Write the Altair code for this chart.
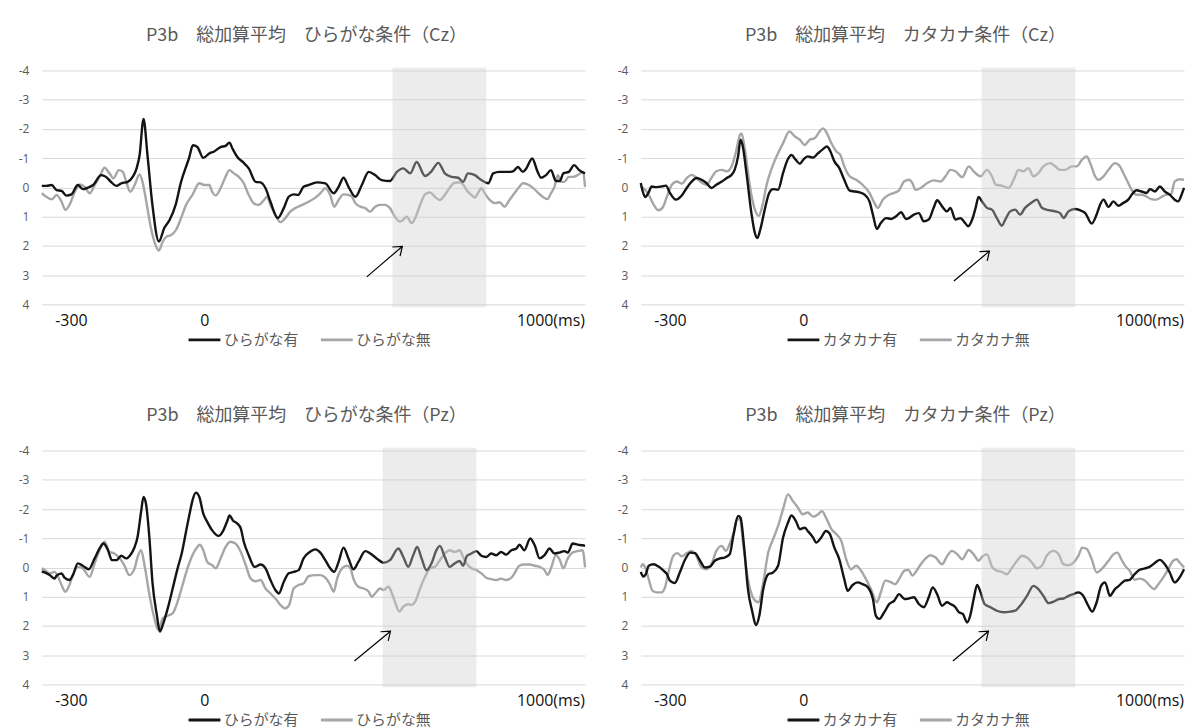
import altair as alt
import pandas as pd

JP = "Noto Sans CJK JP"
LATIN = "Open Sans"

# ERP epoch in ms and amplitude ticks in µV (negative plotted upward)
T_DOMAIN = [-100, 1000]
Y_TICKS = [-4, -3, -2, -1, 0, 1, 2, 3, 4]

# axis captions and where they sit on the time scale
x_caption_text = ["-300", "0", "1000(ms)"]
x_caption_at = [-40, 230, 1000]

# ---------------- P3b Cz, hiragana ----------------
hcz_with_t = [-100, -91, -80, -70, -60, -50, -40, -27, -17, -7, 4, 20, 30, 40, 51, 61, 74, 84, 92, 98,
              106, 114, 124, 137, 148, 159, 171, 182, 192, 198, 206, 215, 227, 239, 249, 262, 272, 280,
              286, 296, 307, 319, 333, 343, 353, 363, 378, 390, 400, 410, 419, 430, 440,
              457, 474, 491, 501, 511, 521, 535, 548, 562, 575, 588, 605, 619, 632, 646, 659, 676, 689,
              703, 716, 730, 743, 753, 763, 777, 790, 804, 814, 827, 844, 854, 864, 874, 881, 893, 904,
              911, 921, 931, 941, 949, 956, 967, 978, 988, 1000]
hcz_with_v = [-0.05, -0.05, -0.08, 0.09, 0.12, 0.28, 0.24, -0.08, 0.06, 0.01, -0.08, -0.42, -0.36, -0.19,
              -0.05, -0.14, -0.19, -0.36, -0.65, -1.10, -2.34, -1.10, 0.60, 1.85, 1.39, 1.11, 0.60, -0.19,
              -0.70, -0.99, -1.44, -1.38, -1.01, -1.16, -1.23, -1.38, -1.42, -1.53, -1.33, -1.04, -0.87,
              -0.65, -0.19, -0.17, 0.03, 0.49, 1.05, 0.71, 0.32, 0.24, 0.26, -0.02, -0.08,
              -0.17, -0.14, 0.20, -0.02, -0.33, -0.02, 0.32, -0.08, -0.53, -0.42, -0.25, -0.22, -0.53,
              -0.65, -0.48, -0.87, -0.39, -0.55, -0.84, -0.48, -0.36, -0.33, -0.19, -0.48, -0.42, -0.25,
              -0.14, -0.48, -0.53, -0.53, -0.55, -0.70, -0.53, -0.65, -0.99, -0.53, -0.33, -0.42, -0.59,
              -0.22, -0.22, -0.48, -0.53, -0.76, -0.59, -0.48]
hcz_without_t = [-100, -91, -80, -70, -60, -52, -44, -33, -23, -13, -3, 7, 17, 27, 37, 45, 56, 64, 71, 79,
                 88, 98, 104, 111, 121, 130, 137, 145, 153, 161, 172, 182, 192, 205, 219, 229, 239, 245,
                 252, 262, 272, 280, 289, 299, 309, 319, 329, 339, 350, 356, 363, 373, 383, 393, 403, 413,
                 427, 440,
                 454, 464, 474, 484, 492, 501, 511, 521, 528, 535, 545, 555, 565, 575, 585, 595, 605, 615,
                 625, 632, 639, 649, 656, 666, 676, 686, 696, 706, 716, 726, 736, 746, 753, 760, 770, 777,
                 783, 790, 797, 807, 817, 827, 837, 847, 857, 867, 874, 884, 894, 904, 914, 924, 931, 938,
                 945, 951, 958, 967, 976, 985, 996, 1000]
hcz_without_v = [0.20, 0.32, 0.41, 0.26, 0.49, 0.77, 0.60, 0.15, -0.10, -0.02, 0.20, -0.08, -0.36, -0.67,
                 -0.48, -0.31, -0.59, -0.53, -0.19, 0.15, -0.08, -0.44, -0.19, 0.43, 1.39, 1.96, 2.16,
                 1.85, 1.68, 1.64, 1.45, 1.05, 0.60, 0.26, -0.14, -0.08, -0.08, 0.15, 0.28, 0.03, -0.36,
                 -0.59, -0.48, -0.36, -0.14, 0.26, 0.54, 0.60, 0.43, 0.32, 0.60, 0.94, 1.19, 1.05, 0.83,
                 0.71, 0.60, 0.49,
                 0.35, 0.20, 0.03, 0.26, 0.66, 0.43, 0.24, 0.26, 0.32, 0.54, 0.66, 0.71, 0.83, 0.66, 0.60,
                 0.60, 0.71, 1.00, 1.17, 1.11, 1.00, 1.22, 1.05, 0.60, 0.24, 0.17, 0.32, 0.43, 0.26, 0.01,
                 -0.16, -0.17, -0.10, 0.09, 0.26, 0.35, 0.20, 0.03, 0.20, 0.43, 0.54, 0.51, 0.66, 0.43,
                 0.20, -0.02, -0.14, -0.10, 0.01, 0.17, 0.32, 0.40, 0.20, -0.02, -0.42, -0.19, -0.19,
                 -0.36, -0.36, -0.42, -0.53, -0.02]

# ---------------- P3b Cz, katakana ----------------
kcz_with_t = [-100, -96, -91, -84, -78, -68, -58, -49, -41, -29, -17, -7, 3, 13, 23, 33, 43, 53, 64, 74,
              84, 90, 97, 102, 106, 114, 124, 131, 136, 142, 151, 160, 168, 178, 188, 198, 205, 214, 222,
              230, 238, 249, 259, 269, 277, 284, 292, 302, 312, 323, 333, 343, 353, 363, 370, 378, 386,
              397, 407, 417, 427, 437,
              443, 453, 463, 473, 483, 493, 500, 510, 520, 527, 537, 547, 554, 563, 571, 578, 584, 591,
              601, 611, 621, 631, 638, 648, 658, 668, 678, 692, 702, 712, 726, 739, 749, 756, 766, 779,
              789, 800, 813, 823, 830, 837, 847, 857, 867, 877, 887, 894, 904, 914, 924, 931, 941, 951,
              961, 971, 981, 988, 995, 1000]
kcz_with_v = [-0.15, 0.14, 0.33, 0.17, -0.03, -0.01, -0.03, -0.06, 0.19, 0.42, 0.28, 0.02, -0.20, -0.32,
              -0.26, -0.15, 0.02, -0.09, -0.20, -0.32, -0.43, -0.60, -1.06, -1.63, -1.45, -0.49, 0.88,
              1.56, 1.73, 1.44, 0.76, 0.19, 0.06, 0.08, -0.49, -0.97, -1.11, -0.94, -0.81, -0.97, -1.06,
              -1.02, -1.17, -1.31, -1.40, -1.23, -0.89, -0.66, -0.26, 0.11, 0.14, 0.17, 0.25, 0.48, 0.93,
              1.42, 1.22, 1.05, 1.08, 0.99, 0.85, 1.08,
              1.05, 0.93, 0.88, 1.16, 1.10, 0.70, 0.44, 0.65, 0.82, 0.70, 1.10, 1.05, 1.16, 1.33, 1.10,
              0.70, 0.33, 0.48, 0.70, 0.76, 1.05, 1.31, 1.10, 0.82, 0.76, 0.93, 0.70, 0.51, 0.42, 0.70,
              0.78, 0.82, 0.88, 1.05, 0.82, 0.74, 0.78, 0.88, 1.24, 0.93, 0.59, 0.42, 0.67, 0.48, 0.63,
              0.53, 0.42, 0.25, 0.10, 0.14, 0.19, 0.06, 0.14, -0.03, 0.14, 0.25, 0.42, 0.48, 0.25, 0.02]
kcz_without_t = [-100, -95, -84, -74, -64, -55, -47, -37, -27, -17, -7, 3, 13, 23, 33, 43, 53, 64, 74, 84,
                 92, 101, 104, 111, 121, 131, 139, 146, 154, 164, 175, 188, 201, 212, 222, 232, 242, 252,
                 262, 269, 277, 286, 296, 304, 312, 323, 336, 349, 363, 373, 380, 390, 403, 413, 423, 433,
                 443, 450, 456, 467, 480, 493, 507, 517, 527, 537, 551, 564, 574, 588, 601, 611, 619, 631,
                 645, 655, 665, 675, 685, 695, 705, 715, 729, 739, 749, 759, 773, 783, 793, 803, 810, 820,
                 826, 837, 847, 860, 870, 877, 887, 894, 904, 914, 924, 933, 944, 954, 964, 974, 981, 991,
                 1000]
kcz_without_v = [-0.03, 0.02, 0.25, 0.59, 0.78, 0.67, 0.31, -0.09, -0.20, -0.13, -0.32, -0.43, -0.32,
                 -0.17, -0.09, -0.32, -0.55, -0.60, -0.55, -0.72, -1.17, -1.80, -1.85, -1.28, -0.03, 0.76,
                 0.97, 0.65, -0.03, -0.60, -1.06, -1.51, -1.91, -1.74, -1.63, -1.45, -1.63, -1.68, -1.91,
                 -2.02, -1.85, -1.51, -1.23, -1.11, -0.72, -0.38, -0.26, -0.09, 0.19, 0.53, 0.70, 0.42,
                 0.25, 0.19, 0.10, -0.20,
                 -0.26, -0.15, 0.08, 0.02, -0.15, -0.24, -0.20, -0.38, -0.60, -0.55, -0.35, -0.72, -0.55,
                 -0.38, -0.60, -0.38, -0.09, -0.06, 0.02, -0.26, -0.60, -0.55, -0.66, -0.38, -0.49, -0.72,
                 -0.83, -0.72, -0.60, -0.60, -0.72, -0.72, -0.94, -1.06, -0.83, -0.38, -0.26, -0.38, -0.60,
                 -0.83, -0.72, -0.49, -0.15, 0.08, 0.25, 0.25, 0.31, 0.40, 0.42, 0.33, 0.25, 0.22, -0.20,
                 -0.28, -0.26]

# ---------------- P3b Pz, hiragana ----------------
hpz_with_t = [-100, -94, -84, -74, -70, -60, -54, -44, -37, -27, -17, -5, 7, 17, 25, 34, 42, 51, 61, 71,
              79, 88, 94, 101, 106, 111, 118, 124, 133, 139, 146, 155, 165, 175, 184, 192, 200, 206, 212,
              219, 227, 235, 245, 258, 266, 276, 280, 287, 296, 303, 309, 319, 331, 343, 353, 363, 373,
              380, 390, 400, 410, 420, 430, 444,
              454, 464, 474, 484, 492, 501, 511, 521, 531, 541, 555, 565, 578, 592, 605, 622, 632, 642,
              652, 660, 669, 679, 689, 699, 706, 716, 726, 736, 746, 753, 761, 770, 780, 790, 800, 810,
              820, 830, 840, 851, 861, 867, 877, 889, 898, 908, 918, 928, 938, 948, 958, 965, 975, 985,
              995, 1000]
hpz_with_v = [0.13, 0.17, 0.26, 0.38, 0.28, 0.20, 0.35, 0.43, 0.26, -0.14, -0.06, 0.06, -0.31, -0.65,
              -0.82, -0.59, -0.25, -0.25, -0.40, -0.31, -0.42, -0.70, -1.05, -1.90, -2.41, -2.18, -0.99,
              0.49, 1.63, 2.19, 1.91, 1.40, 0.72, 0.03, -0.53, -1.22, -1.90, -2.35, -2.56, -2.41, -1.84,
              -1.56, -1.27, -1.08, -1.22, -1.61, -1.78, -1.61, -1.50, -1.33, -0.88, -0.42, -0.02, -0.10,
              0.03, 0.43, 0.77, 0.89, 0.49, 0.20, 0.15, 0.09, -0.31, -0.55,
              -0.62, -0.51, -0.25, 0.03, 0.15, -0.19, -0.68, -0.31, 0.06, -0.19, -0.56, -0.48, -0.31,
              -0.16, -0.25, -0.65, -0.36, -0.02, -0.42, -0.70, -0.31, 0.09, -0.14, -0.59, -0.74, -0.36,
              -0.02, -0.14, -0.22, -0.06, -0.40, -0.48, -0.56, -0.40, -0.36, -0.48, -0.42, -0.53, -0.44,
              -0.59, -0.65, -0.78, -0.59, -0.99, -0.76, -0.31, -0.42, -0.65, -0.48, -0.51, -0.56, -0.51,
              -0.82, -0.78, -0.76, -0.74]
hpz_without_t = [-100, -94, -84, -74, -67, -60, -52, -44, -37, -27, -17, -3, 7, 17, 27, 37, 47, 57, 67, 77,
                 88, 94, 101, 108, 118, 128, 136, 145, 155, 165, 175, 185, 195, 205, 215, 220, 227, 235,
                 245, 252, 262, 272, 282, 292, 303, 313, 323, 333, 343, 353, 363, 373, 383, 393, 401, 410,
                 420, 430, 440,
                 454, 464, 474, 484, 491, 498, 508, 518, 525, 531, 541, 552, 562, 568, 575, 585, 592, 602,
                 609, 615, 624, 632, 642, 649, 656, 666, 676, 686, 696, 706, 716, 726, 736, 746, 753, 760,
                 770, 780, 790, 800, 810, 820, 830, 840, 851, 857, 867, 877, 888, 898, 908, 918, 924, 931,
                 941, 949, 956, 965, 975, 985, 995, 1000]
hpz_without_v = [0.03, 0.09, 0.20, 0.15, 0.32, 0.60, 0.83, 0.60, 0.26, -0.02, 0.03, 0.32, -0.14, -0.59,
                 -0.88, -0.53, -0.48, -0.33, -0.08, 0.26, 0.03, -0.36, -0.59, -0.08, 0.94, 1.74, 2.14,
                 1.74, 1.65, 1.57, 1.17, 0.60, 0.03, -0.42, -0.70, -0.78, -0.59, -0.19, -0.08, 0.03, -0.31,
                 -0.70, -0.88, -0.82, -0.53, -0.08, 0.38, 0.47, 0.43, 0.72, 0.89, 1.06, 1.28, 1.40, 1.28,
                 0.72, 0.60, 0.55, 0.30,
                 0.26, 0.26, 0.35, 0.60, 0.83, 0.38, 0.03, -0.06, 0.03, 0.38, 0.66, 0.72, 0.83, 1.00, 0.89,
                 0.72, 0.77, 0.66, 0.89, 1.17, 1.51, 1.34, 1.26, 1.28, 1.17, 0.72, 0.32, 0.03, -0.02,
                 -0.25, -0.48, -0.59, -0.53, -0.59, -0.36, -0.14, 0.03, 0.09, 0.20, 0.35, 0.40, 0.43, 0.38,
                 0.43, 0.35, 0.20, -0.06, -0.10, -0.10, -0.06, -0.02, 0.09, 0.26, 0.03, -0.42, -0.25, 0.03,
                 -0.31, -0.51, -0.56, -0.59, 0.00]

# ---------------- P3b Pz, katakana ----------------
kpz_with_t = [-100, -95, -89, -84, -74, -64, -54, -47, -41, -31, -21, -10, 0, 10, 20, 30, 40, 50, 60, 70,
              80, 88, 97, 102, 109, 117, 126, 133, 140, 148, 158, 168, 178, 188, 198, 205, 214, 222, 232,
              238, 249, 255, 265, 275, 282, 292, 302, 312, 319, 329, 339, 349, 360, 370, 376, 383, 393,
              403, 413, 423, 434,
              443, 453, 463, 473, 483, 491, 500, 510, 520, 527, 537, 544, 552, 561, 567, 574, 581, 588,
              596, 608, 621, 635, 648, 658, 668, 682, 695, 705, 715, 726, 736, 746, 756, 766, 776, 786,
              796, 806, 814, 823, 832, 840, 850, 860, 868, 880, 890, 900, 910, 921, 931, 942, 951, 961,
              971, 981, 991, 1000]
kpz_with_v = [0.15, 0.31, 0.20, -0.06, -0.11, -0.03, 0.11, 0.23, 0.45, 0.53, 0.17, -0.28, -0.51, -0.49,
              -0.23, 0.00, -0.03, -0.23, -0.31, -0.34, -0.45, -1.14, -1.76, -1.70, -0.74, 0.74, 1.53,
              1.97, 1.65, 0.74, 0.23, 0.17, -0.06, -1.02, -1.53, -1.78, -1.59, -1.31, -1.36, -1.25,
              -1.02, -0.85, -1.02, -1.25, -1.17, -0.68, -0.28, 0.40, 0.80, 0.60, 0.51, 0.57, 0.68, 1.08,
              1.65, 1.76, 1.53, 1.25, 1.14, 0.91, 1.08,
              1.06, 1.02, 1.25, 1.36, 1.02, 0.68, 0.91, 1.31, 1.19, 1.25, 1.36, 1.53, 1.59, 1.88, 1.65,
              1.08, 0.60, 0.85, 1.25, 1.36, 1.48, 1.53, 1.51, 1.48, 1.31, 0.97, 0.63, 0.74, 0.97, 1.22,
              1.17, 1.08, 1.06, 0.97, 0.91, 0.85, 0.97, 1.31, 1.51, 1.19, 0.63, 0.51, 0.97, 0.74, 0.63,
              0.45, 0.42, 0.23, 0.08, 0.03, -0.03, -0.17, -0.26, -0.11, 0.17, 0.51, 0.34, 0.06]
kpz_without_t = [-100, -96, -91, -84, -76, -68, -58, -51, -44, -34, -26, -17, -7, 3, 13, 23, 33, 43, 53, 64,
                 72, 80, 88, 95, 101, 107, 117, 129, 138, 148, 158, 168, 178, 188, 198, 208, 218, 228, 238,
                 249, 259, 267, 275, 286, 296, 306, 316, 326, 336, 346, 356, 366, 378, 386, 395, 407, 415,
                 423, 434, 442,
                 450, 456, 467, 477, 487, 497, 510, 520, 530, 541, 551, 564, 574, 584, 592, 601, 611, 621,
                 631, 641, 652, 662, 672, 682, 692, 702, 712, 722, 736, 746, 756, 766, 776, 786, 794, 803,
                 813, 823, 833, 847, 857, 865, 873, 882, 890, 900, 910, 921, 931, 939, 948, 958, 968, 978,
                 985, 991, 1000]
kpz_without_v = [0.00, -0.11, 0.00, 0.40, 0.80, 0.85, 0.85, 0.68, 0.17, -0.40, -0.49, -0.38, -0.49, -0.57,
                 -0.38, 0.00, 0.06, -0.11, -0.57, -0.74, -0.57, -0.80, -1.19, -1.65, -1.65, -0.85, 0.40,
                 1.08, 1.19, 0.51, -0.51, -0.97, -1.42, -1.99, -2.50, -2.27, -2.05, -1.82, -1.88, -1.74,
                 -1.82, -1.93, -1.70, -1.31, -1.14, -0.91, -0.28, 0.06, -0.06, 0.11, 0.40, 0.74, 1.19,
                 0.85, 0.45, 0.51, 0.57, 0.40, 0.11, 0.08,
                 0.28, 0.17, -0.11, -0.31, -0.42, -0.34, -0.11, -0.38, -0.57, -0.45, -0.28, -0.60, -0.45,
                 -0.23, -0.38, -0.45, -0.03, 0.11, 0.15, 0.23, 0.00, -0.23, -0.40, -0.34, -0.17, 0.03,
                 -0.06, -0.40, -0.57, -0.45, -0.11, -0.08, -0.17, -0.40, -0.68, -0.63, -0.28, 0.17, 0.06,
                 -0.23, -0.45, -0.51, -0.28, -0.03, 0.11, 0.42, 0.38, 0.45, 0.63, 0.74, 0.57, 0.34, 0.06,
                 -0.23, -0.28, -0.17, 0.00]

# analysis window (ms) and arrow (tail -> head) for each panel
windows = [(610, 800), (590, 780), (590, 780), (590, 780)]
arrows = [((558, 3.06), (630, 2.02)), ((534, 3.2), (606, 2.18)),
          ((533, 3.2), (606, 2.18)), ((532, 3.2), (604, 2.18))]

titles = ["P3b\u3000総加算平均\u3000ひらがな条件（Cz）", "P3b\u3000総加算平均\u3000カタカナ条件（Cz）",
          "P3b\u3000総加算平均\u3000ひらがな条件（Pz）", "P3b\u3000総加算平均\u3000カタカナ条件（Pz）"]
names = [("ひらがな有", "ひらがな無"), ("カタカナ有", "カタカナ無"),
         ("ひらがな有", "ひらがな無"), ("カタカナ有", "カタカナ無")]
series = [(hcz_with_t, hcz_with_v, hcz_without_t, hcz_without_v),
          (kcz_with_t, kcz_with_v, kcz_without_t, kcz_without_v),
          (hpz_with_t, hpz_with_v, hpz_without_t, hpz_without_v),
          (kpz_with_t, kpz_with_v, kpz_without_t, kpz_without_v)]

PLOT_W, PLOT_H = 546, 235
BLACK, GRAY = "#141414", "#a6a6a6"
CHEVRON = "M-1,-0.75L0,0L-1,0.75"


def panel(i):
    name_with, name_without = names[i]
    t_w, v_w, t_wo, v_wo = series[i]
    xs = alt.Scale(domain=T_DOMAIN, nice=False, zero=False)
    ys = alt.Scale(domain=[-4, 4], reverse=True, nice=False, zero=False)
    y_axis = alt.Axis(values=Y_TICKS, grid=True, gridColor="#d9d9d9", gridWidth=1, domain=False,
                      ticks=False, labelColor="#595959", labelFont=LATIN, labelFontSize=12,
                      labelPadding=13, title=None,
                      labelExpr="datum.value < 0 ? '-' + abs(datum.value) : '' + datum.value")
    color = alt.Color("series:N",
                      scale=alt.Scale(domain=[name_with, name_without], range=[BLACK, GRAY]),
                      legend=alt.Legend(orient="none", legendX=146, legendY=253, direction="horizontal",
                                        title=None, symbolType="stroke", symbolSize=1024,
                                        symbolStrokeWidth=3, labelFont=JP, labelFontSize=15,
                                        labelColor="#595959", labelOffset=2, columnPadding=15))

    def wave(t, v, name):
        df = pd.DataFrame({"t": t, "v": v, "series": name})
        return alt.Chart(df).mark_line(strokeWidth=2.4, interpolate="monotone").encode(
            x=alt.X("t:Q", scale=xs, axis=None),
            y=alt.Y("v:Q", scale=ys, axis=y_axis),
            color=color,
        )

    w0, w1 = windows[i]
    shade = alt.Chart(pd.DataFrame({"start": [w0], "end": [w1], "lo": [-4.1], "hi": [4.1]})).mark_rect(
        color="#cdcdcd", opacity=0.38
    ).encode(
        x=alt.X("start:Q", scale=xs, axis=None), x2="end:Q",
        y=alt.Y("lo:Q", scale=ys, axis=y_axis), y2="hi:Q",
    )

    (ta, va), (tb, vb) = arrows[i]
    arrow_df = pd.DataFrame({"t": [ta], "v": [va], "t2": [tb], "v2": [vb]})
    shaft = alt.Chart(arrow_df).mark_rule(color="black", strokeWidth=1.2).encode(
        x=alt.X("t:Q", scale=xs, axis=None), y=alt.Y("v:Q", scale=ys, axis=y_axis),
        x2="t2:Q", y2="v2:Q",
    )
    head = alt.Chart(arrow_df).mark_point(shape=CHEVRON, size=256, angle=320, filled=False,
                                          color="black", strokeWidth=1.2, opacity=1).encode(
        x=alt.X("t2:Q", scale=xs, axis=None), y=alt.Y("v2:Q", scale=ys, axis=y_axis),
    )

    cap = pd.DataFrame({"t": x_caption_at, "label": x_caption_text})
    cap_mid = alt.Chart(cap.iloc[:2]).mark_text(font=LATIN, fontSize=16, color="#111111",
                                                 align="center", baseline="middle").encode(
        x=alt.X("t:Q", scale=xs, axis=None), y=alt.value(PLOT_H + 17), text="label:N",
    )
    cap_end = alt.Chart(cap.iloc[2:]).mark_text(font=LATIN, fontSize=16, color="#111111",
                                                 align="right", baseline="middle").encode(
        x=alt.X("t:Q", scale=xs, axis=None), y=alt.value(PLOT_H + 17), text="label:N",
    )

    return alt.layer(
        wave(t_wo, v_wo, name_without), wave(t_w, v_w, name_with), shade, shaft, head, cap_mid, cap_end
    ).properties(
        width=PLOT_W, height=PLOT_H,
        title=alt.TitleParams(titles[i], font=JP, fontSize=18, fontWeight="normal",
                              color="#595959", offset=20, dx=-7),
    )


top = alt.hconcat(panel(0), panel(1), spacing=27).resolve_scale(color="independent")
bottom = alt.hconcat(panel(2), panel(3), spacing=27).resolve_scale(color="independent")
chart = alt.vconcat(top, bottom, spacing=59).resolve_scale(color="independent").properties(
    padding={"left": 18, "top": 25, "right": 5, "bottom": 0},
    background="white",
).configure_view(stroke=None)

chart.save("out.html", embed_options={"renderer": "svg", "actions": False})
